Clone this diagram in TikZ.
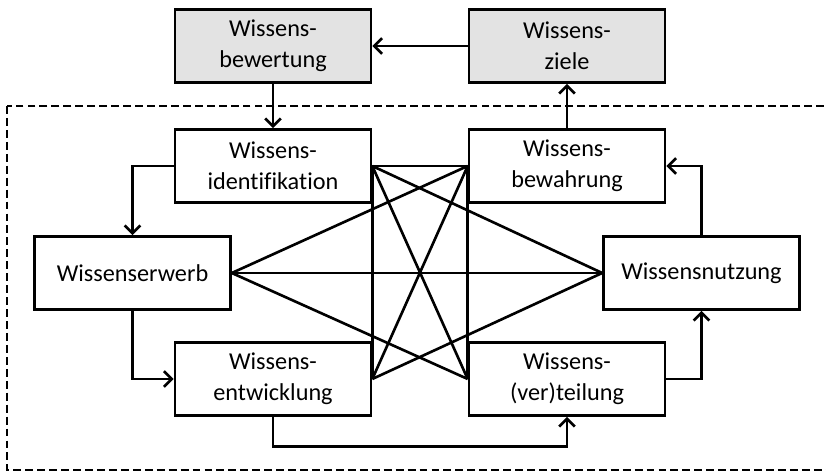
\documentclass[tikz,border=0pt]{standalone}
\usepackage{fontspec}
\setmainfont{Carlito}[Ligatures=NoCommon]
\usetikzlibrary{arrows.meta}
\begin{document}
\begin{tikzpicture}[x=0.02cm, y=-0.02cm, line width=1.5pt, line join=miter,
	kasten/.style={draw, line width=1.5pt, minimum width=3.92cm, minimum height=1.46cm, inner sep=0pt, align=center, font=\fontsize{13.8}{17.6}\selectfont},
	grau/.style={kasten, fill=gray!22},
	pfeil/.style={-{Straight Barb[length=4.5pt, width=9pt, line width=1.5pt]}}]
	\useasboundingbox (0,0) rectangle (826,472);
	
	\draw[dash pattern=on 4.5pt off 2.3pt] (7,106) rectangle (840,470);
	
	\node[grau] (bewertung) at (273,46) {Wissens-\\bewertung};
	\node[grau] (ziele) at (567,46) {Wissens-\\ziele};
	\node[kasten] (ident) at (273,166) {Wissens-\\identifikation};
	\node[kasten] (bewahrung) at (567,166) {Wissens-\\bewahrung};
	\node[kasten] (erwerb) at (132.5,273) {Wissenserwerb};
	\node[kasten] (nutzung) at (701.5,273) {Wissensnutzung};
	\node[kasten] (entw) at (273,379) {Wissens-\\entwicklung};
	\node[kasten] (vert) at (567,379) {Wissens-\\(ver)teilung};
	
	\foreach \a/\b in {ident.east/bewahrung.west, ident.east/entw.east, ident.east/vert.west,
		ident.east/nutzung.west, erwerb.east/bewahrung.west, erwerb.east/nutzung.west,
		erwerb.east/vert.west, entw.east/bewahrung.west, entw.east/nutzung.west,
		bewahrung.west/vert.west}
		\draw (\a) -- (\b);
	
	\draw[pfeil] (ziele) -- (bewertung);
	\draw[pfeil] (bewertung) -- (ident);
	\draw[pfeil] (bewahrung) -- (ziele);
	\draw[pfeil] (ident.west) -| (erwerb.north);
	\draw[pfeil] (erwerb.south) |- (entw.west);
	\draw[pfeil] (entw.south) -- ++(0,30) -| (vert.south);
	\draw[pfeil] (vert.east) -| (nutzung.south);
	\draw[pfeil] (nutzung.north) |- (bewahrung.east);
\end{tikzpicture}
\end{document}
